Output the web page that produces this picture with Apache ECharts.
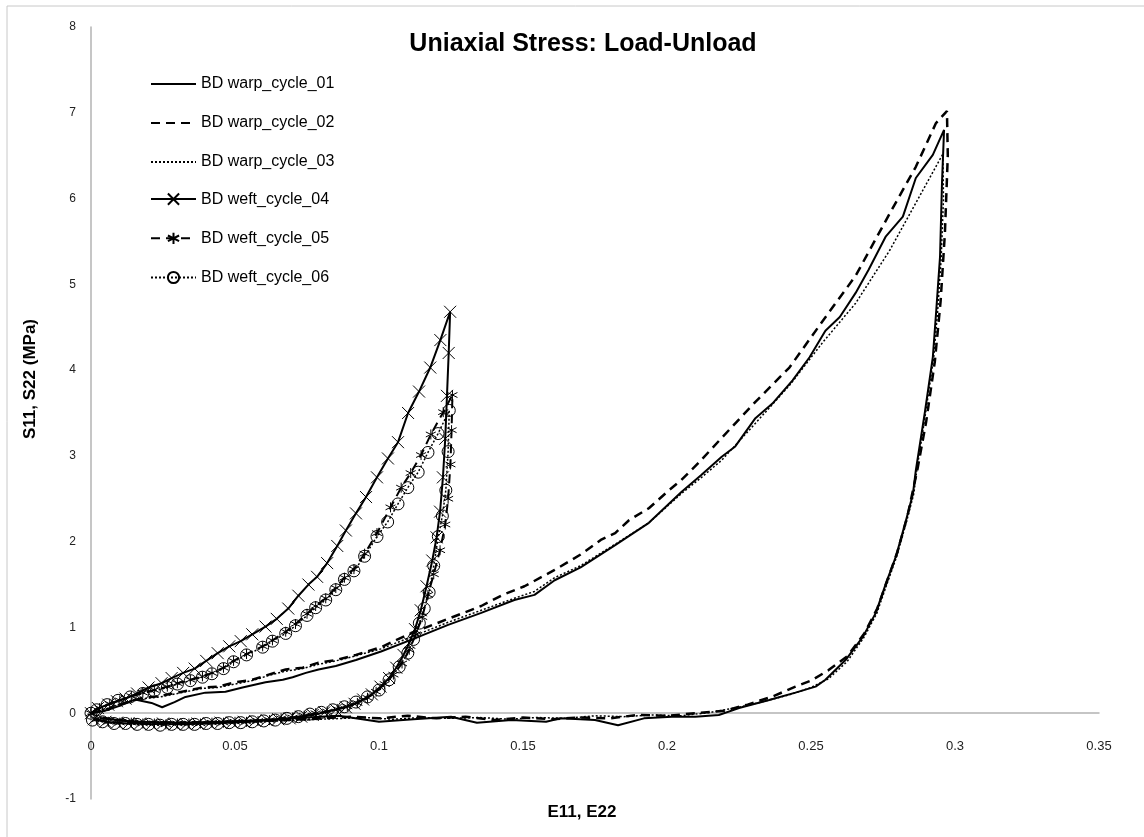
<!DOCTYPE html>
<html>
<head>
<meta charset="utf-8">
<title>Uniaxial Stress: Load-Unload</title>
<script src="https://cdn.jsdelivr.net/npm/echarts@6/dist/echarts.min.js"></script>
<style>
  html, body { margin: 0; padding: 0; background: #fff; }
  #chart { width: 1144px; height: 837px; }
</style>
</head>
<body>
<div id="chart"></div>
<script>
// 数据：应变 E, 应力 S (MPa)，加载段 + 卸载段
const warpNames = ['BD warp_cycle_01', 'BD warp_cycle_02', 'BD warp_cycle_03']
const weftNames = ['BD weft_cycle_04', 'BD weft_cycle_05', 'BD weft_cycle_06']
const xTicks = [0, 0.05, 0.1, 0.15, 0.2, 0.25, 0.3, 0.35]
const yTicks = [-1, 0, 1, 2, 3, 4, 5, 6, 7, 8]

const warp01Load = [[0,0],[0.005,0.03],[0.0094,0.08],[0.0153,0.16],[0.021,0.12],[0.0247,0.07],[0.029,0.13],[0.0328,0.19],[0.0397,0.24],[0.0467,0.25],[0.0526,0.30],[0.0606,0.36],[0.0666,0.39],[0.070,0.42],[0.0746,0.47],[0.079,0.51],[0.085,0.55],[0.092,0.62],[0.1007,0.72],[0.1122,0.87],[0.124,1.03],[0.1355,1.17],[0.147,1.32],[0.154,1.38],[0.161,1.55],[0.170,1.70],[0.182,1.96],[0.1937,2.22],[0.205,2.58],[0.212,2.78],[0.219,2.99],[0.2237,3.11],[0.2307,3.44],[0.2366,3.61],[0.2436,3.88],[0.2495,4.15],[0.255,4.46],[0.260,4.62],[0.2655,4.90],[0.270,5.17],[0.276,5.56],[0.2819,5.79],[0.2864,6.24],[0.2923,6.51],[0.2962,6.80]]
const warp01Unload = [[0.2955,6.2],[0.2948,5.32],[0.2935,4.70],[0.2923,4.15],[0.2895,3.50],[0.2864,2.83],[0.2854,2.56],[0.283,2.25],[0.2795,1.83],[0.276,1.51],[0.2725,1.17],[0.268,0.89],[0.262,0.62],[0.255,0.39],[0.2516,0.31],[0.2446,0.24],[0.2355,0.155],[0.225,0.06],[0.218,-0.02],[0.2098,-0.04],[0.2017,-0.04],[0.192,-0.06],[0.183,-0.14],[0.175,-0.08],[0.163,-0.06],[0.158,-0.10],[0.146,-0.08],[0.134,-0.11],[0.125,-0.04],[0.112,-0.07],[0.100,-0.10],[0.086,-0.03],[0.075,-0.05],[0.060,-0.08],[0.045,-0.10],[0.030,-0.11],[0.015,-0.10],[0.003,-0.06]]

const warp02Load = [[0,0],[0.006,0.05],[0.012,0.12],[0.018,0.18],[0.024,0.20],[0.030,0.24],[0.0387,0.30],[0.044,0.31],[0.050,0.36],[0.056,0.39],[0.0617,0.45],[0.0676,0.51],[0.0735,0.53],[0.079,0.59],[0.085,0.62],[0.092,0.68],[0.1007,0.77],[0.111,0.93],[0.124,1.10],[0.1355,1.25],[0.143,1.38],[0.1505,1.48],[0.161,1.67],[0.170,1.85],[0.177,2.02],[0.182,2.10],[0.1868,2.25],[0.1937,2.39],[0.2007,2.60],[0.205,2.72],[0.211,2.92],[0.219,3.21],[0.2307,3.63],[0.2425,4.03],[0.254,4.57],[0.2655,5.10],[0.2774,5.83],[0.2864,6.37],[0.2934,6.88],[0.2972,7.02]]
const warp02Unload = [[0.2975,6.5],[0.2965,5.6],[0.2950,4.8],[0.2930,4.1],[0.2900,3.4],[0.2870,2.85],[0.2835,2.30],[0.2800,1.88],[0.2765,1.55],[0.2730,1.22],[0.2685,0.93],[0.2625,0.66],[0.2560,0.50],[0.2500,0.38],[0.2446,0.31],[0.2370,0.20],[0.2280,0.10],[0.2200,0.03],[0.2100,0.0],[0.2000,-0.03],[0.1900,-0.02],[0.1800,-0.06],[0.1700,-0.05],[0.1600,-0.07],[0.1500,-0.05],[0.1400,-0.08],[0.1300,-0.04],[0.1200,-0.06],[0.1100,-0.03],[0.1000,-0.06],[0.0900,-0.04],[0.0750,-0.07],[0.0600,-0.09],[0.0450,-0.10],[0.0300,-0.11],[0.0150,-0.10],[0.0030,-0.05]]

const warp03Load = [[0,0],[0.006,0.06],[0.012,0.13],[0.018,0.17],[0.024,0.19],[0.030,0.23],[0.0387,0.29],[0.044,0.30],[0.050,0.34],[0.056,0.38],[0.0617,0.44],[0.0676,0.49],[0.0735,0.52],[0.079,0.57],[0.085,0.61],[0.092,0.67],[0.1007,0.75],[0.112,0.90],[0.124,1.06],[0.1355,1.20],[0.147,1.34],[0.154,1.42],[0.161,1.58],[0.170,1.72],[0.182,1.97],[0.1937,2.22],[0.205,2.56],[0.212,2.75],[0.219,2.95],[0.2307,3.38],[0.2425,3.82],[0.254,4.32],[0.2655,4.78],[0.2774,5.40],[0.2889,6.10],[0.2958,6.52]]
const warp03Unload = [[0.2960,6.0],[0.2952,5.3],[0.2940,4.7],[0.2926,4.15],[0.2898,3.50],[0.2868,2.85],[0.2857,2.56],[0.2833,2.25],[0.2798,1.83],[0.2763,1.50],[0.2728,1.16],[0.2683,0.88],[0.2625,0.60],[0.2560,0.40],[0.2500,0.30],[0.2430,0.22],[0.2340,0.14],[0.2250,0.07],[0.2150,0.01],[0.2050,-0.03],[0.1950,-0.02],[0.1850,-0.04],[0.1750,-0.03],[0.1650,-0.06],[0.1550,-0.05],[0.1450,-0.07],[0.1350,-0.05],[0.1250,-0.06],[0.1150,-0.05],[0.1050,-0.07],[0.0950,-0.05],[0.0800,-0.07],[0.0650,-0.09],[0.0500,-0.10],[0.0350,-0.11],[0.0200,-0.10],[0.0050,-0.06]]

const weft04Load = [[0,0],[0.0024,0.06],[0.006,0.10],[0.009,0.14],[0.012,0.17],[0.016,0.23],[0.020,0.30],[0.0245,0.35],[0.028,0.41],[0.032,0.47],[0.036,0.52],[0.040,0.61],[0.044,0.70],[0.048,0.78],[0.052,0.84],[0.056,0.92],[0.0606,1.01],[0.0645,1.10],[0.0685,1.22],[0.072,1.37],[0.0755,1.50],[0.0785,1.59],[0.082,1.75],[0.0855,1.95],[0.0885,2.13],[0.092,2.33],[0.0955,2.52],[0.0993,2.75],[0.1031,2.97],[0.1066,3.16],[0.1101,3.50],[0.1139,3.75],[0.1178,4.03],[0.1213,4.35],[0.1247,4.68]]
const weft04Unload = [[0.1242,4.20],[0.1236,3.70],[0.1230,3.20],[0.1222,2.75],[0.1212,2.35],[0.1200,2.05],[0.1185,1.78],[0.1165,1.48],[0.1145,1.20],[0.1125,0.98],[0.1105,0.82],[0.1085,0.68],[0.1060,0.53],[0.1035,0.41],[0.1005,0.31],[0.0975,0.22],[0.0945,0.16],[0.0915,0.11],[0.0885,0.07],[0.0850,0.04],[0.0810,0.01],[0.0770,-0.02],[0.0730,-0.04],[0.0690,-0.06],[0.0650,-0.07],[0.0610,-0.08],[0.0570,-0.09],[0.0530,-0.10],[0.0490,-0.11],[0.0450,-0.11],[0.0410,-0.12],[0.0370,-0.12],[0.0330,-0.13],[0.0290,-0.13],[0.0250,-0.12],[0.0210,-0.13],[0.0170,-0.12],[0.0130,-0.12],[0.0090,-0.11],[0.0050,-0.10],[0.0010,-0.07]]

const weft05Load = [[0,0],[0.003,0.06],[0.0065,0.11],[0.010,0.15],[0.014,0.20],[0.018,0.24],[0.022,0.27],[0.0265,0.31],[0.030,0.35],[0.0345,0.39],[0.0387,0.43],[0.042,0.47],[0.046,0.53],[0.0495,0.61],[0.054,0.69],[0.0596,0.78],[0.063,0.85],[0.0676,0.95],[0.071,1.04],[0.075,1.16],[0.078,1.25],[0.0815,1.34],[0.085,1.46],[0.088,1.58],[0.0913,1.68],[0.095,1.86],[0.0993,2.10],[0.104,2.40],[0.1077,2.63],[0.111,2.80],[0.1146,3.01],[0.118,3.25],[0.1223,3.51],[0.1255,3.71]]
const weft05Unload = [[0.1252,3.30],[0.1248,2.90],[0.1240,2.50],[0.1230,2.20],[0.1212,1.90],[0.1190,1.62],[0.1170,1.38],[0.1150,1.12],[0.1128,0.92],[0.1105,0.74],[0.1080,0.58],[0.1050,0.45],[0.1020,0.34],[0.0990,0.25],[0.0960,0.18],[0.0925,0.12],[0.0890,0.08],[0.0855,0.05],[0.0820,0.02],[0.0780,0.0],[0.0740,-0.03],[0.0700,-0.05],[0.0660,-0.06],[0.0620,-0.08],[0.0580,-0.09],[0.0540,-0.10],[0.0500,-0.10],[0.0460,-0.11],[0.0420,-0.11],[0.0380,-0.12],[0.0340,-0.12],[0.0300,-0.12],[0.0260,-0.13],[0.0220,-0.12],[0.0180,-0.12],[0.0140,-0.11],[0.0100,-0.11],[0.0060,-0.10],[0.0020,-0.07]]

const weft06Load = [[0,0],[0.002,0.04],[0.0056,0.10],[0.0094,0.15],[0.0136,0.19],[0.018,0.23],[0.022,0.26],[0.0265,0.30],[0.030,0.34],[0.0345,0.38],[0.0387,0.42],[0.042,0.46],[0.046,0.52],[0.0495,0.60],[0.054,0.68],[0.0596,0.77],[0.063,0.84],[0.0676,0.93],[0.071,1.02],[0.075,1.14],[0.078,1.23],[0.0815,1.32],[0.085,1.44],[0.088,1.56],[0.0913,1.66],[0.095,1.83],[0.0993,2.06],[0.103,2.23],[0.1066,2.44],[0.110,2.63],[0.1136,2.81],[0.117,3.04],[0.1205,3.26],[0.1244,3.53]]
const weft06Unload = [[0.1240,3.05],[0.1232,2.60],[0.1220,2.30],[0.1206,2.06],[0.1190,1.72],[0.1174,1.41],[0.1157,1.22],[0.1140,1.05],[0.1120,0.86],[0.1100,0.70],[0.1070,0.54],[0.1035,0.39],[0.1000,0.27],[0.0960,0.19],[0.0920,0.13],[0.0880,0.075],[0.0840,0.04],[0.0800,0.01],[0.0760,-0.01],[0.0720,-0.04],[0.0680,-0.06],[0.0640,-0.08],[0.0600,-0.09],[0.0560,-0.10],[0.0520,-0.11],[0.0480,-0.11],[0.0440,-0.12],[0.0400,-0.12],[0.0360,-0.13],[0.0320,-0.13],[0.0280,-0.13],[0.0240,-0.14],[0.0200,-0.13],[0.0160,-0.13],[0.0120,-0.12],[0.0080,-0.12],[0.0040,-0.10],[0.0005,-0.08]]

// 标记符号
const crossSymbol = 'path://M0,0L10,10M10,0L0,10'
const starSymbol = 'path://M5,0L5,10M0.7,2.5L9.3,7.5M0.7,7.5L9.3,2.5'

const chart = echarts.init(document.getElementById('chart'), null, { renderer: 'canvas' })

// warp：无标记，图例中也不画圆点
const baseLine = (name, data, type, width) => ({
  name,
  type: 'line',
  data,
  symbol: 'none',
  animation: false,
  silent: true,
  color: '#000',
  lineStyle: { color: '#000', width, type },
  itemStyle: { color: 'none', borderWidth: 0 },
  z: 2
})

// weft：带空心标记
const markedLine = (name, data, type, width, symbol, size) => ({
  ...baseLine(name, data, type, width),
  symbol,
  symbolSize: size,
  showSymbol: true,
  itemStyle: { color: 'none', borderColor: '#000', borderWidth: 1 },
  z: 3
})

const legendBase = {
  orient: 'vertical',
  left: 150,
  padding: 0,
  itemWidth: 45,
  itemHeight: 14,
  textStyle: { fontFamily: 'Liberation Sans', fontSize: 16, color: '#000' }
}

const options = {
  backgroundColor: '#fff',
  animation: false,
  title: {
    text: 'Uniaxial Stress: Load-Unload',
    left: 578,
    top: 27,
    textAlign: 'center',
    textStyle: { fontFamily: 'Liberation Sans', fontSize: 25, fontWeight: 'bold', color: '#000' }
  },
  // 图例
  legend: [
    { ...legendBase, top: 76, itemGap: 23, data: warpNames },
    { ...legendBase, top: 191, itemGap: 23, data: weftNames }
  ],
  tooltip: { show: false },
  grid: { left: 91, right: 45, top: 27, bottom: 38, outerBoundsMode: 'none', containLabel: false },
  xAxis: {
    type: 'value',
    min: xTicks[0],
    max: xTicks[xTicks.length - 1],
    interval: 0.05,
    position: 'bottom',
    offset: -86,
    name: 'E11, E22',
    nameLocation: 'middle',
    nameGap: 91,
    nameTextStyle: { fontFamily: 'Liberation Sans', fontSize: 17, fontWeight: 'bold', color: '#000', padding: [0, 26, 0, 0] },
    axisLine: { onZero: false, lineStyle: { color: '#b3b3b3', width: 1.5 } },
    axisTick: { show: false },
    splitLine: { show: false },
    axisLabel: {
      margin: 27,
      fontFamily: 'Liberation Sans',
      fontSize: 13,
      color: '#222',
      formatter: (v) => String(+v.toFixed(2))
    }
  },
  yAxis: {
    type: 'value',
    min: yTicks[0],
    max: yTicks[yTicks.length - 1],
    interval: 1,
    name: 'S11, S22 (MPa)',
    nameLocation: 'middle',
    nameGap: 52,
    nameTextStyle: { fontFamily: 'Liberation Sans', fontSize: 17, fontWeight: 'bold', color: '#000', padding: [0, 0, 0, 68] },
    axisLine: { show: true, lineStyle: { color: '#b3b3b3', width: 1.5 } },
    axisTick: { show: false },
    splitLine: { show: false },
    axisLabel: { margin: 15, fontFamily: 'Liberation Sans', fontSize: 12, color: '#222' }
  },
  graphic: [
    { type: 'line', shape: { x1: 7, y1: 6, x2: 7, y2: 837 }, style: { stroke: '#c8c8c8', lineWidth: 1 }, silent: true },
    { type: 'line', shape: { x1: 7, y1: 6, x2: 1144, y2: 6 }, style: { stroke: '#c8c8c8', lineWidth: 1 }, silent: true }
  ],
  series: [
    baseLine(warpNames[0], warp01Load.concat(warp01Unload), 'solid', 2),
    baseLine(warpNames[1], warp02Load.concat(warp02Unload), [9, 6], 2.5),
    baseLine(warpNames[2], warp03Load.concat(warp03Unload), [2, 2], 1.5),
    markedLine(weftNames[0], weft04Load.concat(weft04Unload), 'solid', 2, crossSymbol, 12),
    markedLine(weftNames[1], weft05Load.concat(weft05Unload), [9, 6], 2, starSymbol, 10),
    markedLine(weftNames[2], weft06Load.concat(weft06Unload), [2, 2], 1.5, 'circle', 12)
  ]
}

chart.setOption(options)
</script>
</body>
</html>
